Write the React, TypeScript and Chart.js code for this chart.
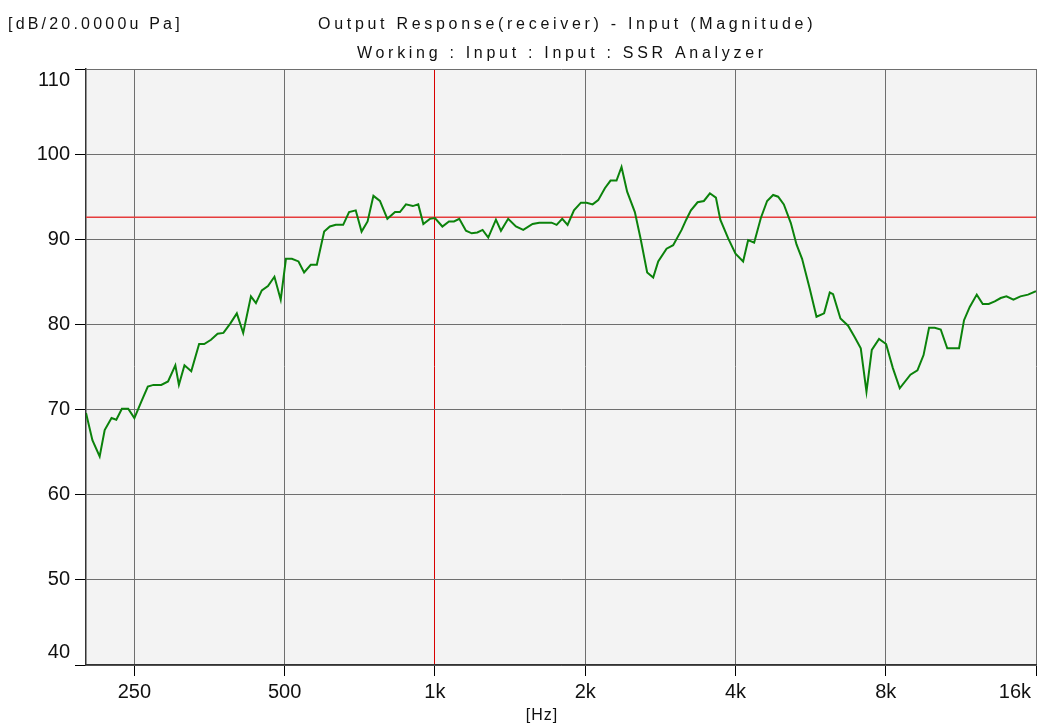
import React, { useEffect, useRef } from "react";
import { Chart, registerables } from "chart.js";

Chart.register(...registerables);

// ---- data ----
const FREQ_HZ = [
  200, 206, 213, 218, 225, 230, 236, 243, 250, 258, 266, 273, 283, 292, 302, 307, 315, 325, 337, 345,
  356, 367, 377, 389, 401, 413, 428, 438, 450, 463, 477, 491, 503, 517, 533, 547, 564, 580, 600, 616,
  633, 655, 673, 694, 713, 733, 753, 776, 803, 832, 851, 875, 903, 926, 948, 977, 1000, 1035, 1067, 1092,
  1119, 1154, 1185, 1216, 1246, 1279, 1325, 1356, 1402, 1453, 1503, 1569, 1618, 1663, 1713, 1753, 1799, 1844, 1899, 1961,
  2013, 2070, 2124, 2190, 2248, 2311, 2365, 2427, 2515, 2582, 2662, 2737, 2801, 2911, 3001, 3120, 3187, 3257, 3359, 3458,
  3555, 3655, 3730, 3868, 4001, 4144, 4241, 4360, 4497, 4629, 4759, 4870, 5000, 5164, 5301, 5439, 5635, 5813, 6020, 6180,
  6275, 6492, 6725, 6935, 7130, 7320, 7502, 7757, 8013, 8265, 8535, 8965, 9260, 9525, 9770, 10030, 10310, 10625, 10913, 11220,
  11480, 11787, 12175, 12515, 12865, 13227, 13598, 13960, 14418, 14892, 15422, 16000,
];

const LEVEL_DB = [
  69.6, 66.4, 64.5, 67.6, 69.0, 68.8, 70.1, 70.1, 69.0, 70.9, 72.7, 72.9, 72.9, 73.3, 75.2, 72.9, 75.2, 74.5, 77.7, 77.7,
  78.2, 78.9, 79.0, 80.1, 81.3, 79.0, 83.3, 82.5, 84.0, 84.5, 85.6, 82.9, 87.7, 87.7, 87.4, 86.1, 87.0, 87.0, 90.9, 91.5,
  91.7, 91.7, 93.2, 93.4, 90.9, 92.1, 95.1, 94.5, 92.4, 93.2, 93.2, 94.1, 93.9, 94.1, 91.8, 92.4, 92.5, 91.5, 92.1, 92.1,
  92.4, 91.0, 90.7, 90.8, 91.1, 90.2, 92.3, 91.0, 92.4, 91.5, 91.1, 91.8, 91.95, 91.95, 91.95, 91.7, 92.4, 91.7, 93.4, 94.3,
  94.3, 94.1, 94.6, 96.0, 96.9, 96.9, 98.5, 95.6, 93.2, 90.1, 86.1, 85.5, 87.4, 88.9, 89.3, 91.1, 92.3, 93.4, 94.35, 94.5,
  95.4, 94.9, 92.3, 90.1, 88.3, 87.4, 89.9, 89.6, 92.5, 94.5, 95.2, 95.0, 94.1, 91.9, 89.4, 87.7, 84.2, 80.9, 81.3, 83.75,
  83.55, 80.7, 79.85, 78.5, 77.2, 72.1, 77.0, 78.3, 77.7, 74.9, 72.5, 74.1, 74.6, 76.4, 79.6, 79.6, 79.4, 77.2, 77.2, 77.2,
  80.5, 82.05, 83.5, 82.4, 82.4, 82.7, 83.1, 83.3, 82.9, 83.3, 83.5, 83.9,
];

const REFERENCE_DB = 92.6;
const CURSOR_HZ = 1000;

const X_MIN = 200;
const X_MAX = 16000;
const Y_MIN = 40;
const Y_MAX = 110;

const X_TICKS = [250, 500, 1000, 2000, 4000, 8000, 16000];
const X_TICK_LABELS = ["250", "500", "1k", "2k", "4k", "8k", "16k"];
const Y_TICKS = [40, 50, 60, 70, 80, 90, 100, 110];
const Y_TICK_LABELS = ["40", "50", "60", "70", "80", "90", "100", "110"];

const TITLE = "Output Response(receiver) - Input (Magnitude)";
const SUBTITLE = "Working : Input : Input : SSR Analyzer";
const Y_UNIT = "[dB/20.0000u Pa]";
const X_UNIT = "[Hz]";

const FONT = '"Liberation Sans", Arial, Helvetica, sans-serif';

const decorPlugin = {
  id: "decor",
  beforeDraw(chart: any) {
    const { ctx, chartArea: a } = chart;
    ctx.save();
    ctx.fillStyle = "#f3f3f3";
    ctx.fillRect(a.left, a.top, a.right - a.left, a.bottom - a.top);
    ctx.restore();
  },
  afterDraw(chart: any) {
    const ctx = chart.ctx as CanvasRenderingContext2D;
    const xs = chart.scales.x;
    const ys = chart.scales.y;
    ctx.save();
    ctx.fillStyle = "#111";
    ctx.textBaseline = "middle";

    // titles
    ctx.font = `16px ${FONT}`;
    ctx.textAlign = "left";
    (ctx as any).letterSpacing = "3.2px";
    ctx.fillText(Y_UNIT, 8, 25);
    (ctx as any).letterSpacing = "3.7px";
    ctx.fillText(TITLE, 318, 25);
    ctx.fillText(SUBTITLE, 357, 54);

    // x unit
    (ctx as any).letterSpacing = "1px";
    ctx.textAlign = "center";
    ctx.fillText(X_UNIT, 542, 716);

    // tick labels
    (ctx as any).letterSpacing = "0px";
    ctx.font = `20px ${FONT}`;
    X_TICKS.forEach((v, i) => {
      const px = xs.getPixelForValue(v);
      if (v === X_MAX) {
        ctx.textAlign = "right";
        ctx.fillText(X_TICK_LABELS[i], px - 5, 692);
      } else {
        ctx.textAlign = "center";
        ctx.fillText(X_TICK_LABELS[i], px, 692);
      }
    });
    ctx.textAlign = "right";
    Y_TICKS.forEach((v, i) => {
      let y = ys.getPixelForValue(v);
      if (v === Y_MAX) y += 11;
      if (v === Y_MIN) y -= 12.5;
      ctx.fillText(Y_TICK_LABELS[i], 70, y);
    });
    ctx.restore();
  },
};

export default function App() {
  const ref = useRef<HTMLCanvasElement | null>(null);

  useEffect(() => {
    document.body.style.margin = "0";
    const canvas = ref.current;
    if (!canvas) return;
    const chart = new Chart(canvas, {
      type: "line",
      data: {
        datasets: [
          {
            data: FREQ_HZ.map((f, i) => ({ x: f, y: LEVEL_DB[i] })),
            borderColor: "#0b820b",
            borderWidth: 2,
            pointRadius: 0,
            tension: 0,
          },
          {
            data: [
              { x: X_MIN, y: REFERENCE_DB },
              { x: X_MAX, y: REFERENCE_DB },
            ],
            borderColor: "#e63c3c",
            borderWidth: 1.5,
            pointRadius: 0,
            tension: 0,
          },
        ],
      },
      options: {
        responsive: false,
        animation: false,
        events: [],
        layout: { padding: { left: 0, top: 69, right: 1, bottom: 0 } },
        plugins: {
          legend: { display: false },
          tooltip: { enabled: false },
          title: { display: false },
        },
        scales: {
          x: {
            type: "logarithmic",
            min: X_MIN,
            max: X_MAX,
            afterBuildTicks: (s: any) => {
              s.ticks = X_TICKS.map((v) => ({ value: v }));
            },
            afterFit: (s: any) => {
              s.height = 61;
            },
            ticks: { display: false },
            grid: {
              color: (c: any) => (c.tick && c.tick.value === CURSOR_HZ ? "#d80000" : "#6e6e6e"),
              tickColor: "#000",
              tickLength: 11,
              lineWidth: 1,
            },
            border: { color: "#333", width: 1.5 },
          },
          y: {
            min: Y_MIN,
            max: Y_MAX,
            afterBuildTicks: (s: any) => {
              s.ticks = Y_TICKS.map((v) => ({ value: v }));
            },
            afterFit: (s: any) => {
              s.width = 86;
            },
            ticks: { display: false },
            grid: { color: "#6e6e6e", tickColor: "#000", tickLength: 11, lineWidth: 1 },
            border: { color: "#333", width: 1.5 },
          },
        },
      },
      plugins: [decorPlugin],
    });
    return () => chart.destroy();
  }, []);

  return (
    <div style={{ width: 1037, height: 726 }}>
      <canvas ref={ref} width={1037} height={726} style={{ display: "block" }} />
    </div>
  );
}
